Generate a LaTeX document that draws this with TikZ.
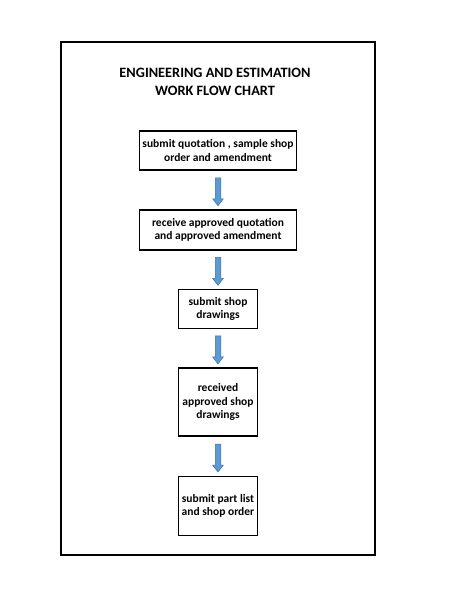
\documentclass[tikz,border=0pt]{standalone}
\usepackage{fontspec}
\setmainfont{Carlito}
\usetikzlibrary{shapes.arrows,calc}
\definecolor{arrfill}{HTML}{5B9BD5}
\definecolor{arrline}{HTML}{41719C}
\begin{document}
\begin{tikzpicture}[x=1pt,y=-1pt,
  boxst/.style={draw=black,line width=1.2pt,fill=white,inner sep=0pt,align=center,font=\bfseries\fontsize{11.5}{13.5}\selectfont},
  arrst/.style={single arrow,draw=arrline,fill=arrfill,line width=0.5pt,shape border rotate=270,
     single arrow head extend=2.6pt,single arrow tip angle=75,minimum height=28pt,minimum width=10pt,inner sep=2.5pt}]
\useasboundingbox (0,0) rectangle (474,613);
\node[draw=black,line width=1.2pt,minimum width=314pt,minimum height=513pt,inner sep=0pt] (frame) at (218,298.5) {};
\node[font=\bfseries\fontsize{14.3}{18.5}\selectfont,align=center] (title) at (215,82) {ENGINEERING AND ESTIMATION\\WORK FLOW CHART};
\node[boxst,minimum width=157pt,minimum height=39pt] (b1) at (218,150.5) {submit quotation , sample shop\\order and amendment};
\node[boxst,minimum width=157pt,minimum height=40pt] (b2) at (218,230) {receive approved quotation\\and approved amendment};
\node[boxst,minimum width=79pt,minimum height=39pt] (b3) at (218,308.7) {submit shop\\drawings};
\node[boxst,minimum width=79pt,minimum height=68pt] (b4) at (218,402) {received\\approved shop\\drawings};
\node[boxst,minimum width=79pt,minimum height=59pt] (b5) at (218,506) {submit part list\\and shop order};
\node[arrst] (a1) at ($(b1.south)!0.5!(b2.north)$) {};
\node[arrst] (a2) at ($(b2.south)!0.5!(b3.north)$) {};
\node[arrst] (a3) at ($(b3.south)!0.5!(b4.north)$) {};
\node[arrst] (a4) at ($(b4.south)!0.5!(b5.north)$) {};
\end{tikzpicture}
\end{document}
